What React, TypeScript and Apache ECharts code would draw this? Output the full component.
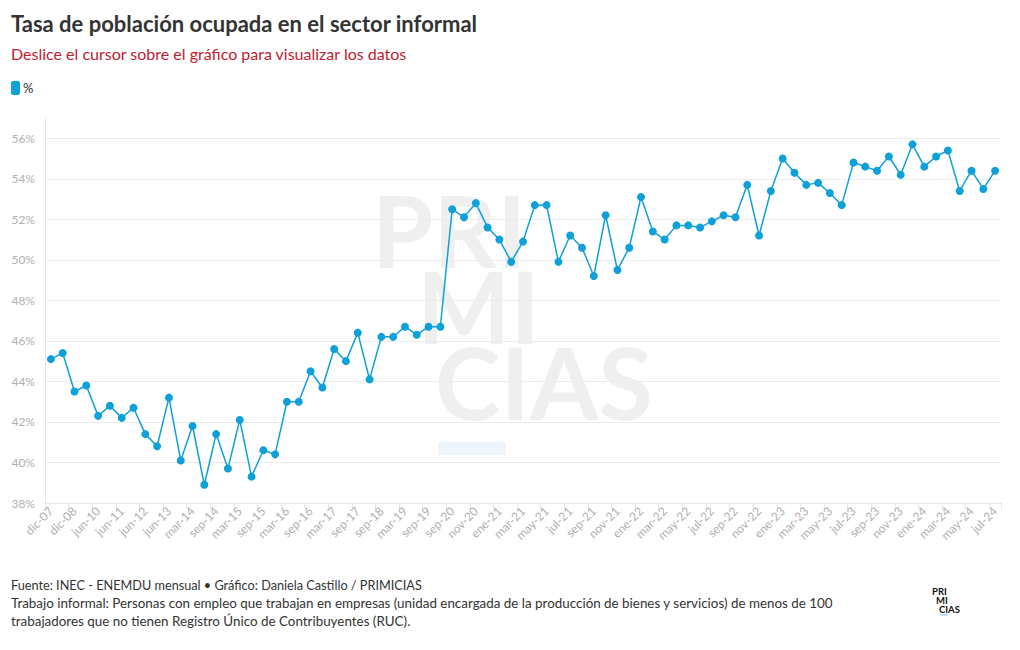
import React, { useEffect, useRef } from "react";
import * as echarts from "echarts";

const categories = [
  "dic-07", "jun-08", "dic-08", "dic-09", "jun-10", "dic-10", "jun-11", "dic-11", "jun-12", "dic-12",
  "jun-13", "dic-13", "mar-14", "jun-14", "sep-14", "dic-14", "mar-15", "jun-15", "sep-15", "dic-15",
  "mar-16", "jun-16", "sep-16", "dic-16", "mar-17", "jun-17", "sep-17", "dic-17", "sep-18", "dic-18",
  "mar-19", "jun-19", "sep-19", "dic-19", "sep-20", "oct-20", "nov-20", "dic-20", "ene-21", "feb-21",
  "mar-21", "abr-21", "may-21", "jun-21", "jul-21", "ago-21", "sep-21", "oct-21", "nov-21", "dic-21",
  "ene-22", "feb-22", "mar-22", "abr-22", "may-22", "jun-22", "jul-22", "ago-22", "sep-22", "oct-22",
  "nov-22", "dic-22", "ene-23", "feb-23", "mar-23", "abr-23", "may-23", "jun-23", "jul-23", "ago-23",
  "sep-23", "oct-23", "nov-23", "dic-23", "ene-24", "feb-24", "mar-24", "abr-24", "may-24", "jun-24",
  "jul-24",
];

const values = [
  45.1, 45.4, 43.5, 43.8, 42.3, 42.8, 42.2, 42.7, 41.4, 40.8,
  43.2, 40.1, 41.8, 38.9, 41.4, 39.7, 42.1, 39.3, 40.6, 40.4,
  43.0, 43.0, 44.5, 43.7, 45.6, 45.0, 46.4, 44.1, 46.2, 46.2,
  46.7, 46.3, 46.7, 46.7, 52.5, 52.1, 52.8, 51.6, 51.0, 49.9,
  50.9, 52.7, 52.7, 49.9, 51.2, 50.6, 49.2, 52.2, 49.5, 50.6,
  53.1, 51.4, 51.0, 51.7, 51.7, 51.6, 51.9, 52.2, 52.1, 53.7,
  51.2, 53.4, 55.0, 54.3, 53.7, 53.8, 53.3, 52.7, 54.8, 54.6,
  54.4, 55.1, 54.2, 55.7, 54.6, 55.1, 55.4, 53.4, 54.4, 53.5,
  54.4,
];

const seriesName = "%";
const title = "Tasa de población ocupada en el sector informal";
const subtitle = "Deslice el cursor sobre el gráfico para visualizar los datos";
const footer1 = "Fuente: INEC - ENEMDU mensual • Gráfico: Daniela Castillo / PRIMICIAS";
const footer2 = "Trabajo informal: Personas con empleo que trabajan en empresas (unidad encargada de la producción de bienes y servicios) de menos de 100";
const footer3 = "trabajadores que no tienen Registro Único de Contribuyentes (RUC).";
const watermark = ["PRI", "MI", "CIAS"];

const FONT = "Lato, 'Noto Sans', sans-serif";
const BLUE = "#0ea0d8";

export default function App() {
  const ref = useRef<HTMLDivElement>(null);
  useEffect(() => {
    document.body.style.margin = "0";
    const chart = echarts.init(ref.current!, null, { renderer: "svg" });
    const wmX = [372, 417, 435];
    const wmY = [229, 305, 381];
    chart.setOption({
      animation: false,
      backgroundColor: "#ffffff",
      textStyle: { fontFamily: FONT },
      legend: {
        left: 11,
        top: 81,
        padding: 0,
        icon: "roundRect",
        itemWidth: 9,
        itemHeight: 14,
        itemGap: 4,
        textStyle: { color: "#333", fontSize: 13, fontFamily: FONT, padding: [0, 0, 0, -2] },
        data: [seriesName],
      },
      grid: { left: 45, right: 19, top: 118, bottom: 147, containLabel: false },
      xAxis: {
        type: "category",
        data: categories,
        boundaryGap: true,
        axisLine: { lineStyle: { color: "#e6e6e6" } },
        axisTick: { show: true, length: 6, lineStyle: { color: "#e6e6e6" } },
        axisLabel: {
          interval: 1,
          rotate: 45,
          color: "#b0b0b0",
          fontSize: 12,
          margin: 6,
          fontFamily: FONT,
        },
      },
      yAxis: {
        type: "value",
        min: 38,
        max: 57,
        interval: 2,
        axisLine: { show: true, lineStyle: { color: "#e6e6e6" } },
        axisTick: { show: false },
        axisLabel: {
          formatter: "{value}%",
          color: "#b0b0b0",
          fontSize: 12,
          margin: 10,
          showMaxLabel: false,
          fontFamily: FONT,
        },
        splitLine: { show: true, showMaxLine: false, lineStyle: { color: "#ececec" } },
      },
      graphic: [
        {
          type: "text",
          left: 11,
          top: 12,
          style: { text: title, fill: "#333333", font: `bold 22px ${FONT}` },
        },
        {
          type: "text",
          left: 11,
          top: 45,
          style: { text: subtitle, fill: "#c0202f", font: `16px ${FONT}` },
        },
        {
          type: "group",
          z: -10,
          silent: true,
          children: watermark.map((t, i) => ({
            type: "text",
            x: wmX[i],
            y: wmY[i],
            z: -10,
            style: {
              text: t,
              fill: "#efefef",
              font: `bold 99px ${FONT}`,
              lineHeight: 74,
              verticalAlign: "middle",
            },
          })).concat([
            { type: "rect", z: -10, shape: { x: 438, y: 442, width: 68, height: 13 }, style: { fill: "#eef6fd" } } as any,
          ]),
        },
        {
          type: "text",
          left: 11,
          top: 578,
          style: { text: footer1, fill: "#333333", font: `12.7px ${FONT}` },
        },
        {
          type: "text",
          left: 11,
          top: 596,
          style: { text: footer2, fill: "#333333", font: `13.4px ${FONT}` },
        },
        {
          type: "text",
          left: 11,
          top: 614,
          style: { text: footer3, fill: "#333333", font: `13.4px ${FONT}` },
        },
        {
          type: "group",
          children: [
            { type: "text", x: 932, y: 586, style: { text: "PRI", fill: "#111", font: `bold 9.5px ${FONT}` } },
            { type: "text", x: 936, y: 595, style: { text: "MI", fill: "#111", font: `bold 9.5px ${FONT}` } },
            { type: "text", x: 939, y: 604, style: { text: "CIAS", fill: "#111", font: `bold 9.5px ${FONT}` } },
            { type: "rect", shape: { x: 940, y: 614, width: 8, height: 1.5 }, style: { fill: "#9fd3ef" } },
          ],
        },
      ],
      series: [
        {
          name: seriesName,
          type: "line",
          data: values,
          color: BLUE,
          symbol: "circle",
          symbolSize: 8,
          showAllSymbol: true,
          lineStyle: { width: 1.5, color: BLUE },
          itemStyle: { color: BLUE },
          z: 5,
        },
      ],
    });
    return () => chart.dispose();
  }, []);
  return <div ref={ref} style={{ width: 1020, height: 650 }} />;
}
